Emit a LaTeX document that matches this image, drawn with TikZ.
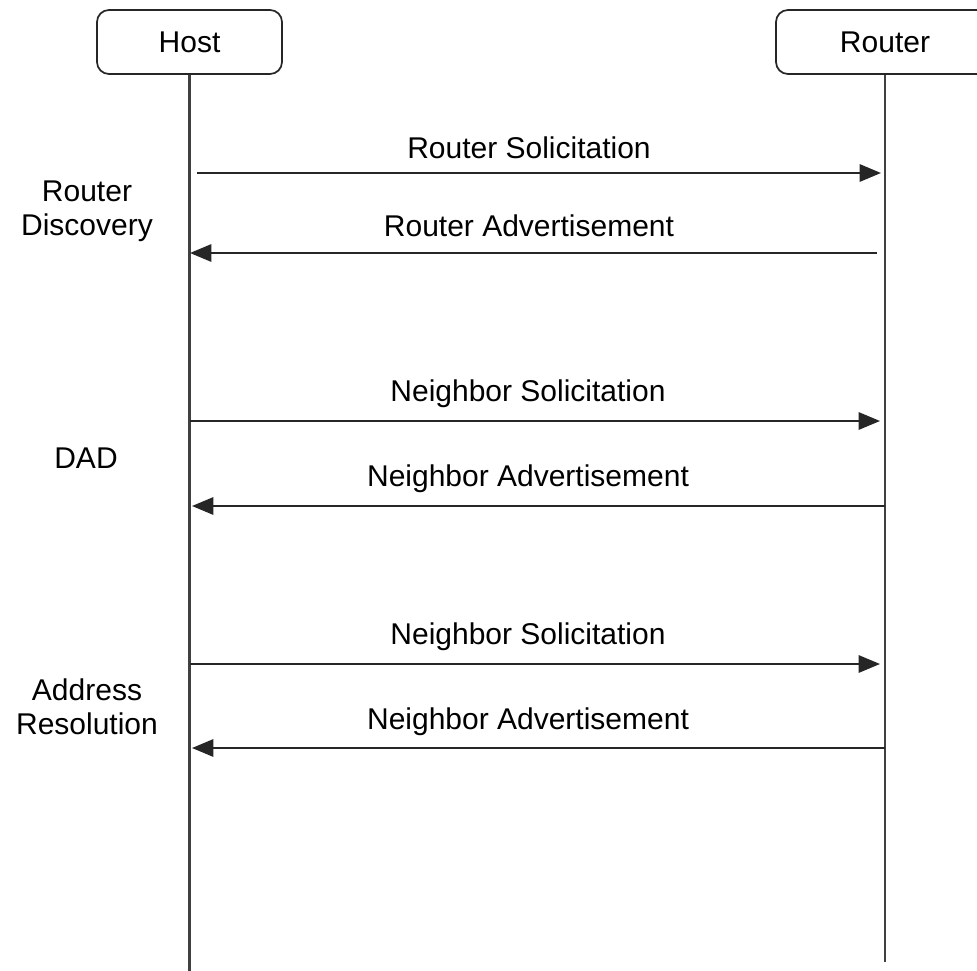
\documentclass[tikz,border=0pt]{standalone}
\usepackage{fontspec}
\setmainfont{Liberation Sans}
\usetikzlibrary{arrows.meta}
\begin{document}
\begin{tikzpicture}[x=0.75pt,y=-0.75pt,
  actor/.style={draw=black!85,line width=1.3pt,rounded corners=9pt,
    minimum height=48pt,inner sep=0pt,font=\fontsize{22.5}{26}\selectfont},
  lifeline/.style={draw=black!75,line width=1.6pt},
  msg/.style={draw=black!85,line width=1.5pt,-{Triangle[length=16pt,width=13pt]}},
  lbl/.style={anchor=base,inner sep=0pt,font=\fontsize{22.5}{26}\selectfont},
  phase/.style={align=center,inner sep=0pt,font=\fontsize{22.5}{25.5}\selectfont}]
\useasboundingbox (0,0) rectangle (977,970);
\clip (0,0) rectangle (977,970);

% participants
\node[actor,minimum width=138.75pt] (host) at (189.5,42) {Host};
\node[actor,minimum width=163.5pt] (router) at (885,42) {Router};

% lifelines
\coordinate (hostend) at (189.5,972);
\coordinate (routerend) at (885,962);
\draw[lifeline] (host.south) -- (hostend);
\draw[lifeline] (router.south) -- (routerend);

% message end points
\coordinate (h1) at (197,173);  \coordinate (r1) at (881,173);
\coordinate (r2) at (877,253);  \coordinate (h2) at (190,253);
\coordinate (h3) at (190,421);  \coordinate (r3) at (880,421);
\coordinate (r4) at (885,506);  \coordinate (h4) at (192,506);
\coordinate (h5) at (190,664);  \coordinate (r5) at (880,664);
\coordinate (r6) at (885,748);  \coordinate (h6) at (192,748);

% messages
\draw[msg] (h1) -- (r1);
\draw[msg] (r2) -- (h2);
\draw[msg] (h3) -- (r3);
\draw[msg] (r4) -- (h4);
\draw[msg] (h5) -- (r5);
\draw[msg] (r6) -- (h6);

% message labels
\node[lbl] (m1) at (529,158) {Router Solicitation};
\node[lbl] (m2) at (529,236) {Router Advertisement};
\node[lbl] (m3) at (528,401) {Neighbor Solicitation};
\node[lbl] (m4) at (528,486) {Neighbor Advertisement};
\node[lbl] (m5) at (528,644) {Neighbor Solicitation};
\node[lbl] (m6) at (528,729) {Neighbor Advertisement};

% phase labels
\node[phase] (p1) at (87,211) {Router\\Discovery};
\node[phase] (p2) at (86,458) {DAD};
\node[phase] (p3) at (87,707) {Address\\Resolution};
\end{tikzpicture}
\end{document}
